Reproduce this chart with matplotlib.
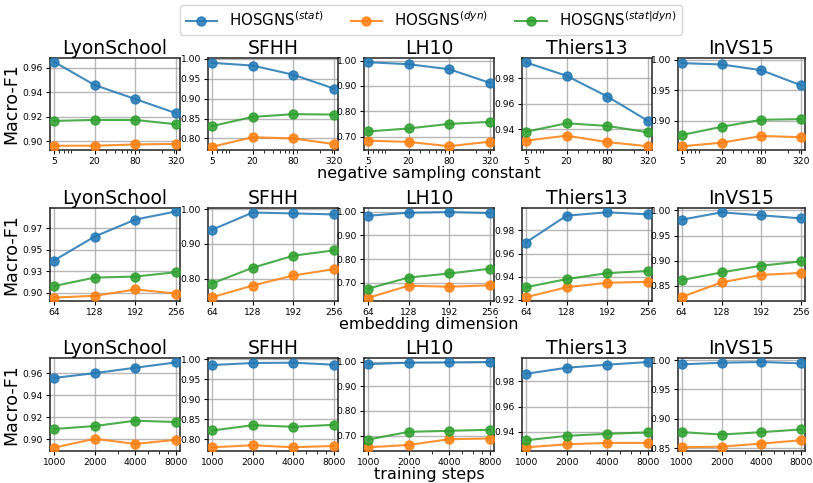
import matplotlib
matplotlib.use("Agg")
import matplotlib.pyplot as plt
from matplotlib.ticker import NullFormatter, FixedLocator, FixedFormatter

datasets = ["LyonSchool", "SFHH", "LH10", "Thiers13", "InVS15"]

# Row 1: negative sampling constant
neg_x = [5, 20, 80, 320]
neg_x_labels = ["5", "20", "80", "320"]
neg_stat = [[0.965, 0.946, 0.9345, 0.923],
            [0.990, 0.983, 0.960, 0.925],
            [0.9934, 0.9855, 0.9657, 0.9115],
            [0.9923, 0.9818, 0.9656, 0.9465],
            [0.9946, 0.9924, 0.983, 0.958]]
neg_dyn = [[0.8965, 0.8965, 0.8975, 0.898],
           [0.779, 0.803, 0.800, 0.786],
           [0.684, 0.679, 0.662, 0.680],
           [0.9311, 0.935, 0.930, 0.9267],
           [0.858, 0.864, 0.875, 0.873]]
neg_sd = [[0.9167, 0.9175, 0.9175, 0.914],
          [0.831, 0.854, 0.861, 0.860],
          [0.720, 0.732, 0.750, 0.758],
          [0.938, 0.9447, 0.9426, 0.9376],
          [0.8766, 0.890, 0.9016, 0.9027]]

# Row 2: embedding dimension
emb_x = [64, 128, 192, 256]
emb_x_labels = ["64", "128", "192", "256"]
emb_stat = [[0.9359, 0.9611, 0.9789, 0.9874],
            [0.9404, 0.990, 0.9875, 0.9846],
            [0.983, 0.9957, 0.9986, 0.9943],
            [0.9696, 0.9928, 0.9957, 0.9939],
            [0.9814, 0.996, 0.990, 0.984]]
emb_dyn = [[0.8972, 0.899, 0.9057, 0.9014],
           [0.747, 0.7808, 0.8096, 0.8279],
           [0.637, 0.6886, 0.684, 0.690],
           [0.9223, 0.931, 0.9348, 0.9357],
           [0.828, 0.857, 0.8718, 0.8758]]
emb_sd = [[0.9092, 0.9181, 0.9192, 0.9238],
          [0.7865, 0.8317, 0.8663, 0.8817],
          [0.6757, 0.7229, 0.740, 0.760],
          [0.931, 0.938, 0.9432, 0.945],
          [0.8615, 0.8768, 0.890, 0.8987]]

# Row 3: training steps
ts_x = [1000, 2000, 4000, 8000]
ts_x_labels = ["1000", "2000", "4000", "8000"]
ts_stat = [[0.9557, 0.960, 0.9649, 0.9697],
           [0.985, 0.990, 0.9908, 0.9858],
           [0.990, 0.996, 0.997, 0.9986],
           [0.9859, 0.9907, 0.9931, 0.9952],
           [0.9926, 0.9954, 0.9966, 0.9943]]
ts_dyn = [[0.8927, 0.9006, 0.896, 0.8997],
          [0.780, 0.785, 0.780, 0.7833],
          [0.652, 0.6616, 0.685, 0.6877],
          [0.9277, 0.9301, 0.9312, 0.9312],
          [0.8517, 0.8528, 0.858, 0.8637]]
ts_sd = [[0.9095, 0.9122, 0.917, 0.9158],
         [0.8218, 0.835, 0.831, 0.836],
         [0.6836, 0.715, 0.719, 0.7233],
         [0.9333, 0.9368, 0.9384, 0.9395],
         [0.8774, 0.8734, 0.8774, 0.882]]

# y tick positions and labels per row/panel
neg_yticks = [[0.90, 0.92, 0.94, 0.96], [0.80, 0.85, 0.90, 0.95, 1.00],
              [0.70, 0.80, 0.90, 1.00], [0.94, 0.96, 0.98], [0.90, 0.95, 1.00]]
emb_yticks = [[0.9025, 0.925, 0.9475, 0.97], [0.80, 0.90, 1.00],
              [0.70, 0.80, 0.90, 1.00], [0.92, 0.94, 0.96, 0.98], [0.85, 0.90, 0.95, 1.00]]
emb_ytick_labels_lyon = ["0.90", "0.93", "0.95", "0.97"]
ts_yticks = [[0.90, 0.92, 0.94, 0.96], [0.80, 0.85, 0.90, 0.95, 1.00],
             [0.70, 0.80, 0.90, 1.00], [0.94, 0.96, 0.98], [0.85, 0.90, 0.95, 1.00]]

neg_ylim = [(0.893, 0.968), (0.771, 1.002), (0.647, 1.010), (0.9238, 0.9957), (0.852, 1.003)]
emb_ylim = [(0.8936, 0.991), (0.7365, 1.003), (0.624, 1.0157), (0.9191, 0.9994), (0.820, 1.0046)]
ts_ylim = [(0.8896, 0.9737), (0.7707, 1.0025), (0.637, 1.015), (0.9248, 0.9984), (0.8454, 1.0034)]

series_labels = [r"HOSGNS$^{(stat)}$", r"HOSGNS$^{(dyn)}$", r"HOSGNS$^{(stat|dyn)}$"]
colors = ["#1f77b4", "#ff7f0e", "#2ca02c"]

W, H = 813, 483
fig = plt.figure(figsize=(W / 100, H / 100), dpi=100)

lefts = [50, 208, 364, 522, 678]
widths = [130, 130, 130, 130, 127]
rows = [
    dict(top=58, bottom=150, x=neg_x, xl=neg_x_labels, data=(neg_stat, neg_dyn, neg_sd),
         yt=neg_yticks, yl=neg_ylim, log=True, xlim=(4.4, 365), xlabel="negative sampling constant"),
    dict(top=208, bottom=301, x=emb_x, xl=emb_x_labels, data=(emb_stat, emb_dyn, emb_sd),
         yt=emb_yticks, yl=emb_ylim, log=False, xlim=(58, 262), xlabel="embedding dimension"),
    dict(top=358, bottom=451, x=ts_x, xl=ts_x_labels, data=(ts_stat, ts_dyn, ts_sd),
         yt=ts_yticks, yl=ts_ylim, log=True, xlim=(930, 8600), xlabel="training steps"),
]

handles = None
for r, row in enumerate(rows):
    for c, name in enumerate(datasets):
        ax = fig.add_axes([lefts[c] / W, 1 - row["bottom"] / H, widths[c] / W,
                           (row["bottom"] - row["top"]) / H])
        hs = []
        for s in range(3):
            h, = ax.plot(row["x"], row["data"][s][c], "-o", color=colors[s], lw=1.5,
                         ms=6.5, alpha=0.85, label=series_labels[s], zorder=3)
            hs.append(h)
        handles = hs
        if row["log"]:
            ax.set_xscale("log")
            ax.xaxis.set_minor_formatter(NullFormatter())
        ax.set_xticks(row["x"])
        ax.set_xticklabels(row["xl"])
        ax.set_xlim(*row["xlim"])
        ax.set_ylim(*row["yl"][c])
        yt = row["yt"][c]
        ax.yaxis.set_major_locator(FixedLocator(yt))
        if r == 1 and c == 0:
            ax.yaxis.set_major_formatter(FixedFormatter(emb_ytick_labels_lyon))
        else:
            ax.yaxis.set_major_formatter(FixedFormatter(["%.2f" % v for v in yt]))
        ax.tick_params(labelsize=6.6, length=3, pad=2)
        ax.tick_params(which="minor", length=1.8)
        ax.grid(True, which="major", color="#b0b0b0", lw=1.0, alpha=0.9)
        for sp in ax.spines.values():
            sp.set_linewidth(1.1)
            sp.set_color("#222222")
        ax.set_title(name, fontsize=13.5, pad=1.5)
        if c == 0:
            ax.set_ylabel("Macro-F1", fontsize=12.5, labelpad=1.5)
        if c == 2:
            ax.set_xlabel(row["xlabel"], fontsize=11.5, labelpad=0)

fig.legend(handles, series_labels, loc="upper center", ncol=3,
           bbox_to_anchor=(431 / W, 1.0), fontsize=10.8, frameon=True,
           columnspacing=1.8, handlelength=2.1, handletextpad=0.8, borderaxespad=0.3)

fig.savefig("out.png", dpi=100)
